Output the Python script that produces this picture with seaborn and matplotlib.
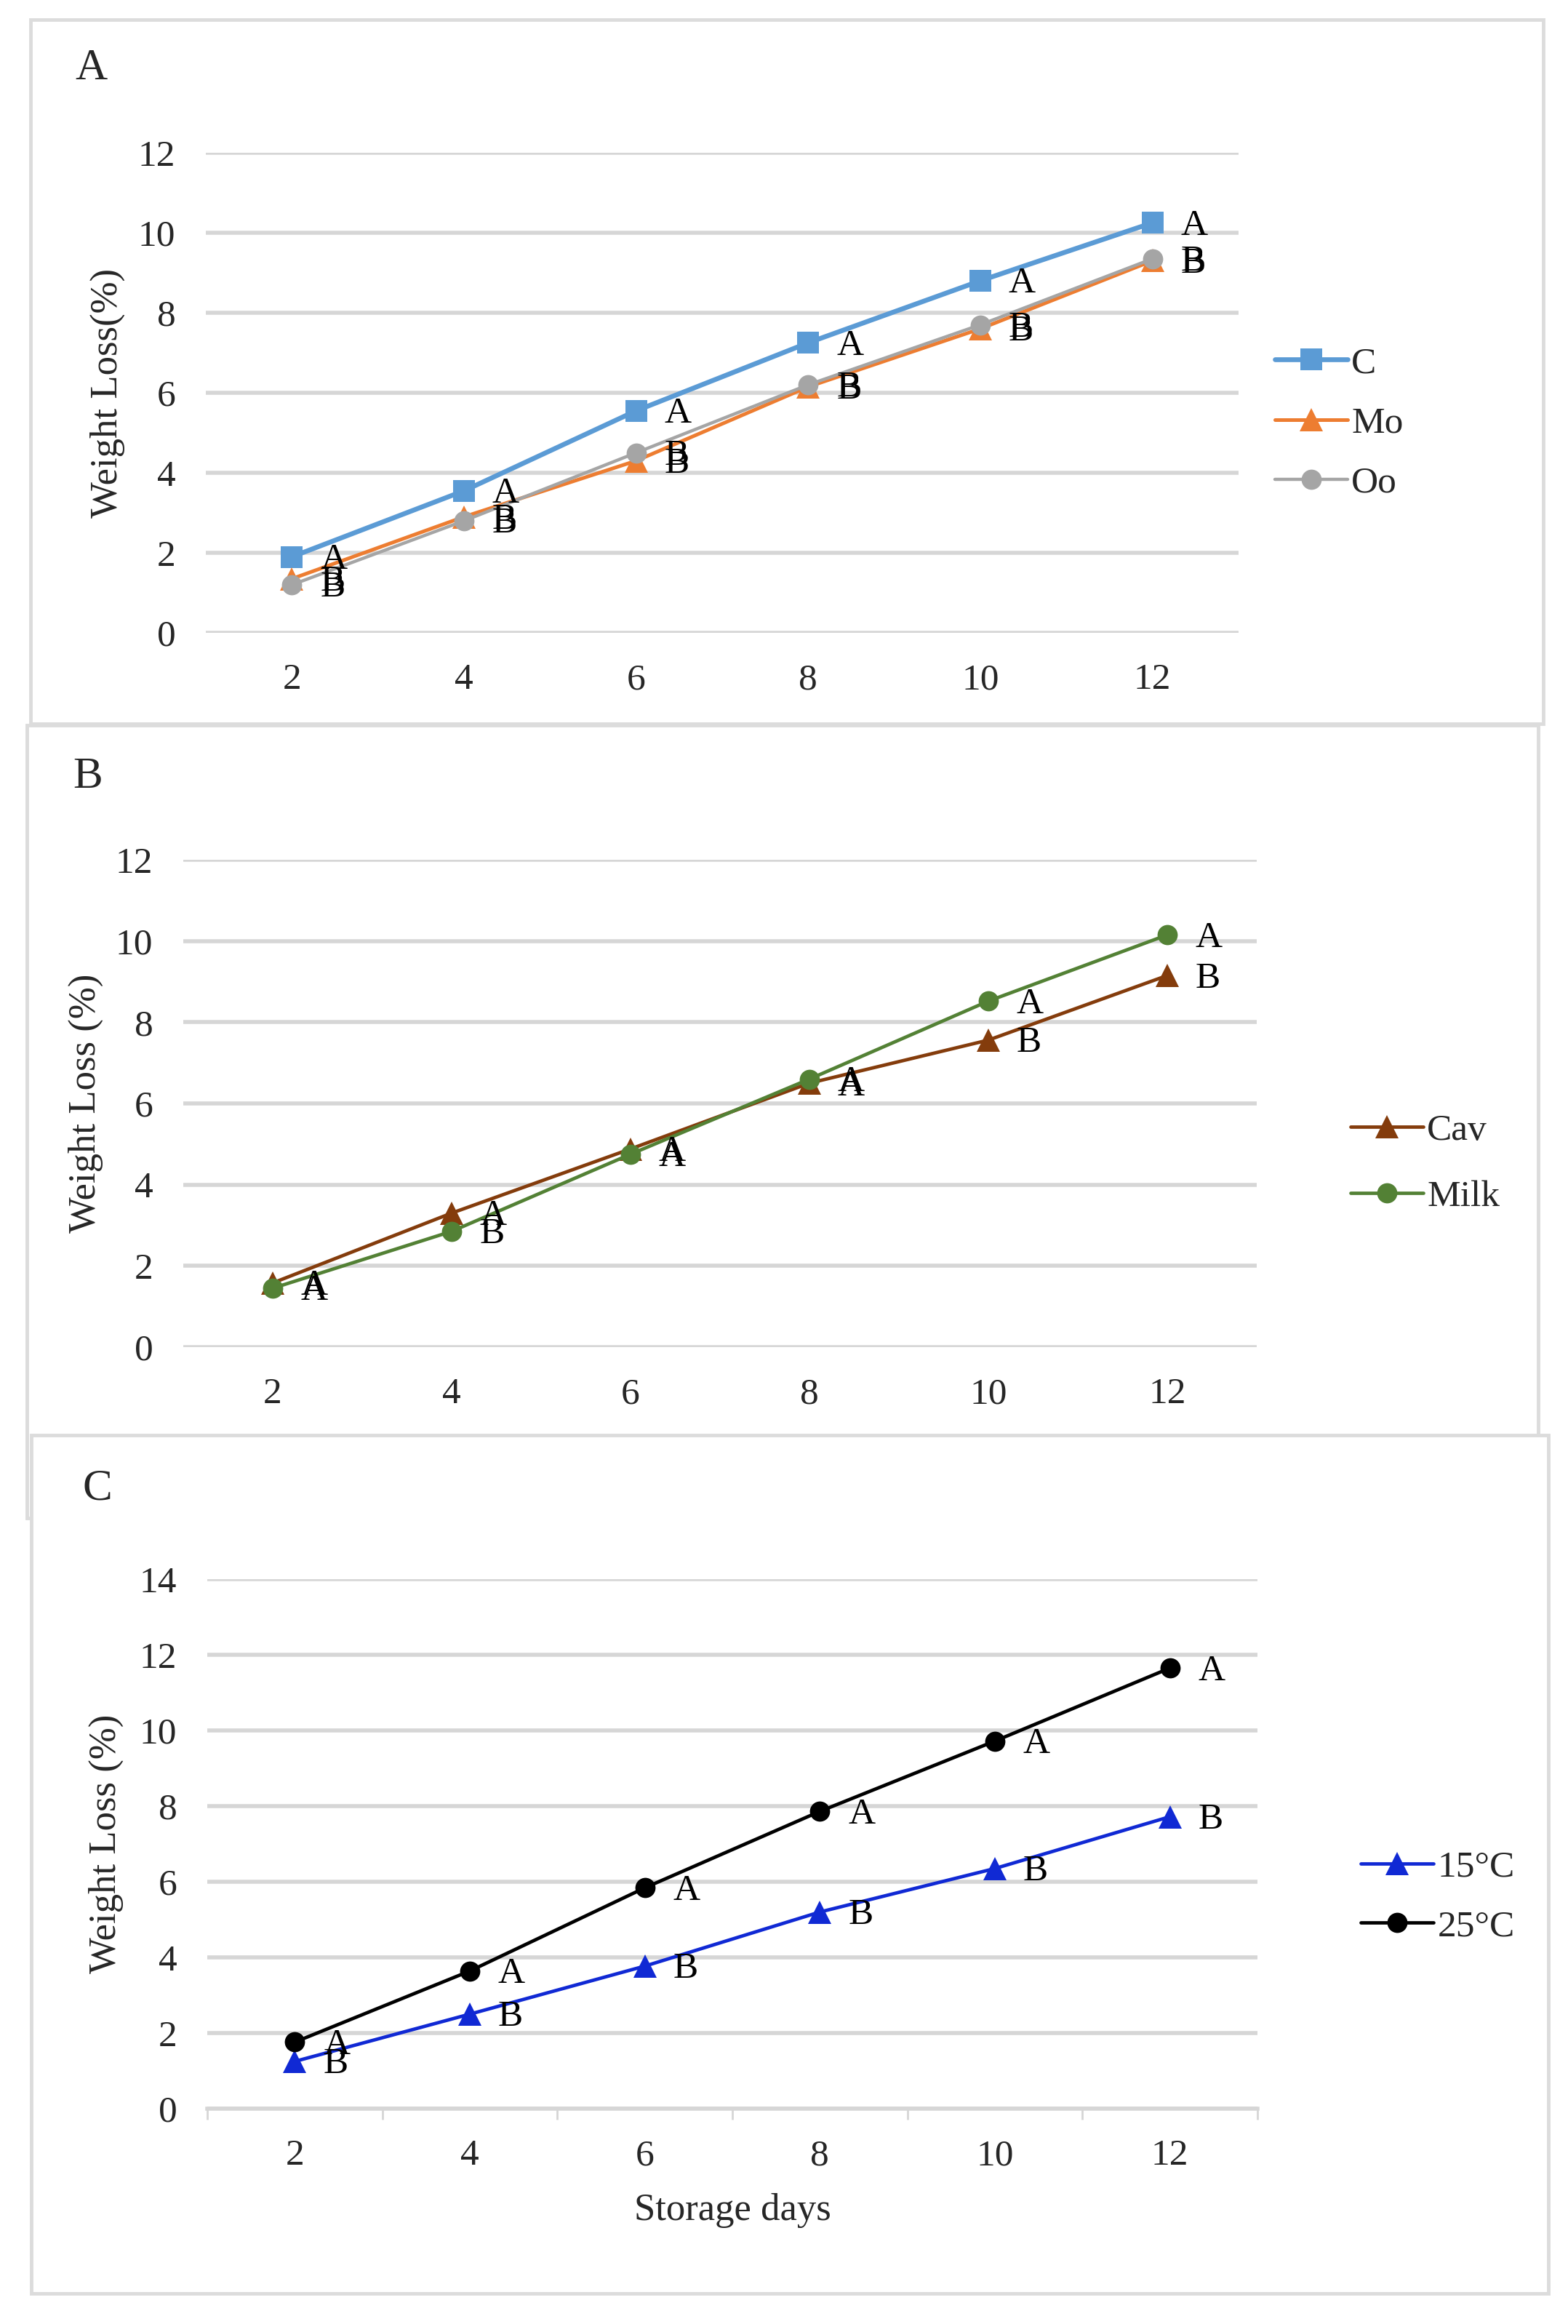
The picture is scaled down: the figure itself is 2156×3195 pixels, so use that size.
import pandas as pd
import seaborn as sns
import matplotlib.pyplot as plt
from matplotlib.patches import Rectangle
from matplotlib.lines import Line2D

# Storage days (categorical x axis)
days = ['2', '4', '6', '8', '10', '12']

# Panel A: coating treatments
a_groups = ['C', 'Mo', 'Oo']
a_c = [1.9, 3.55, 5.55, 7.25, 8.8, 10.25]
a_mo = [1.35, 2.9, 4.3, 6.15, 7.6, 9.3]
a_oo = [1.2, 2.8, 4.5, 6.2, 7.7, 9.35]
a_c_let = ['A', 'A', 'A', 'A', 'A', 'A']
a_mo_let = ['B', 'B', 'B', 'B', 'B', 'B']
a_oo_let = ['B', 'B', 'B', 'B', 'B', 'B']

# Panel B: cultivar vs milk stage
b_groups = ['Cav', 'Milk']
b_cav = [1.58, 3.3, 4.88, 6.5, 7.56, 9.15]
b_milk = [1.45, 2.85, 4.75, 6.6, 8.52, 10.15]
b_cav_let = ['A', 'A', 'A', 'A', 'B', 'B']
b_milk_let = ['A', 'B', 'A', 'A', 'A', 'A']

# Panel C: storage temperature
c_groups = ['15°C', '25°C']
c_15 = [1.25, 2.5, 3.77, 5.2, 6.35, 7.72]
c_25 = [1.76, 3.64, 5.84, 7.86, 9.72, 11.65]
c_15_let = ['B', 'B', 'B', 'B', 'B', 'B']
c_25_let = ['A', 'A', 'A', 'A', 'A', 'A']

sns.set_style('white')
plt.rcParams['font.family'] = ['Liberation Serif', 'DejaVu Serif']

W, H = 2156, 3195
FS = 37
GRID = '#d6d6d6'

fig = plt.figure(figsize=(W / 100, H / 100), dpi=100)


def px_axes(left, top, right, bottom):
    return fig.add_axes([left / W, 1 - bottom / H, (right - left) / W, (bottom - top) / H])


def px_box(left, top, right, bottom, z):
    r = Rectangle((left / W, 1 - bottom / H), (right - left) / W, (bottom - top) / H,
                  transform=fig.transFigure, facecolor='white', edgecolor='#dcdcdc',
                  linewidth=3.5, zorder=z)
    fig.add_artist(r)


# panel frames (C drawn last, on top of B)
px_box(42, 27, 2122, 995, -3)
px_box(37, 997, 2115, 2087, -2)
px_box(43, 1973, 2129, 3153, -1)


def draw_panel(ax, series, groups, colors, markers, msizes, lws, letters, ymax, ylabel, ylab_x):
    df = pd.DataFrame({
        'day': days * len(groups),
        'loss': [v for s in series for v in s],
        'group': [g for g in groups for _ in days],
    })
    for g, col, mk, ms, lw in zip(groups, colors, markers, msizes, lws):
        sns.lineplot(data=df[df['group'] == g], x='day', y='loss', color=col, marker=mk,
                     markersize=ms, markeredgewidth=0, linewidth=lw, sort=False, ax=ax,
                     legend=False)
    for s, let in zip(series, letters):
        for i, (v, t) in enumerate(zip(s, let)):
            ax.annotate(t, (i, v), xytext=(28, -3), textcoords='offset points',
                        ha='left', va='center', fontsize=FS, color='black')
    ax.set_xlim(-0.5, 5.5)
    ax.set_ylim(0, ymax)
    ax.set_yticks(range(0, ymax + 1, 2))
    ax.yaxis.grid(True, color=GRID, linewidth=4)
    ax.set_axisbelow(True)
    sns.despine(ax=ax, left=True, bottom=True)
    ax.tick_params(axis='both', length=0, labelsize=FS, pad=30)
    ax.set_xlabel('')
    ax.set_ylabel(ylabel, fontsize=FS + 1)
    ax.yaxis.set_label_coords(ylab_x, 0.5)
    ax.patch.set_alpha(0)


def add_legend(ax, groups, colors, markers, msizes, lws, x, y, spacing):
    handles = [Line2D([], [], color=c, marker=m, markersize=ms, markeredgewidth=0, linewidth=lw)
               for c, m, ms, lw in zip(colors, markers, msizes, lws)]
    ax.legend(handles, groups, loc='center left', bbox_to_anchor=(x / W, 1 - y / H),
              bbox_transform=fig.transFigure, frameon=False, fontsize=FS,
              handlelength=1.95, handletextpad=0.1, labelspacing=spacing,
              borderpad=0, borderaxespad=0)


# Panel A
axA = px_axes(283, 210, 1703, 870)
a_cols = ['#5B9BD5', '#ED7D31', '#A5A5A5']
a_mk = ['s', '^', 'o']
a_ms = [21, 23, 20]
a_lw = [4.8, 3.6, 3.2]
draw_panel(axA, [a_c, a_mo, a_oo], a_groups, a_cols, a_mk, a_ms, a_lw,
           [a_c_let, a_mo_let, a_oo_let], 12, 'Weight Loss(%)', (172 - 283) / (1703 - 283))
add_legend(axA, a_groups, a_cols, a_mk, a_ms, a_lw, 1753, 582, 0.69)
fig.text(103 / W, 1 - 94 / H, 'A', fontsize=44, ha='left', va='center')

# Panel B
axB = px_axes(252, 1182, 1728, 1852)
b_cols = ['#843C0C', '#538135']
b_mk = ['^', 'o']
b_ms = [23, 20]
b_lw = [3.4, 3.4]
draw_panel(axB, [b_cav, b_milk], b_groups, b_cols, b_mk, b_ms, b_lw,
           [b_cav_let, b_milk_let], 12, 'Weight Loss (%)', (142 - 252) / (1728 - 252))
add_legend(axB, b_groups, b_cols, b_mk, b_ms, b_lw, 1857, 1600, 0.85)
fig.text(100 / W, 1 - 1068 / H, 'B', fontsize=44, ha='left', va='center')

# Panel C
axC = px_axes(285, 2171, 1729, 2899)
c_cols = ['#1029D4', '#000000']
c_mk = ['^', 'o']
c_ms = [23, 20]
c_lw = [3.4, 3.4]
draw_panel(axC, [c_15, c_25], c_groups, c_cols, c_mk, c_ms, c_lw,
           [c_15_let, c_25_let], 14, 'Weight Loss (%)', (170 - 285) / (1729 - 285))
add_legend(axC, c_groups, c_cols, c_mk, c_ms, c_lw, 1871, 2608, 0.67)
axC.spines['bottom'].set_visible(True)
axC.spines['bottom'].set_color(GRID)
axC.spines['bottom'].set_linewidth(4)
axC.set_xticks([i - 0.5 for i in range(7)], minor=True)
axC.tick_params(axis='x', which='minor', length=11, width=2, color=GRID, direction='out')
axC.xaxis.set_ticks_position('bottom')
axC.text(0.5, (2899 - 3039) / (2899 - 2171), 'Storage days', transform=axC.transAxes,
         ha='center', va='center', fontsize=FS + 1)
fig.text(113 / W, 1 - 2047 / H, 'C', fontsize=44, ha='left', va='center')

fig.savefig('out.png', dpi=100)
